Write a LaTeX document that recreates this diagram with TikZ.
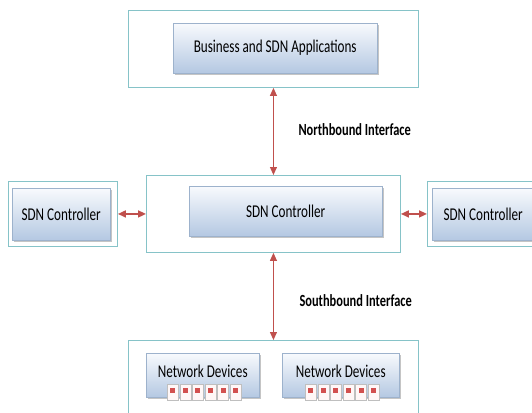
\documentclass[tikz,border=0pt]{standalone}
\usepackage{fontspec}
\setmainfont[FakeStretch=0.73]{Carlito}
\usetikzlibrary{arrows.meta,shadows}

\definecolor{framecol}{HTML}{86C3C8}
\definecolor{boxtop}{HTML}{F8FAFD}
\definecolor{boxbot}{HTML}{B4C8E2}
\definecolor{boxline}{HTML}{9DB2CC}
\definecolor{linkcol}{HTML}{C0504D}
\definecolor{portcol}{HTML}{D2504F}

\tikzset{
	frame node/.style = {
		rectangle,
		draw = framecol,
		line width = 0.9pt,
		fill = white,
		anchor = north west
	},
	box node/.style = {
		rectangle,
		draw = boxline,
		top color = boxtop,
		bottom color = boxbot,
		drop shadow = {shadow xshift=1.5pt, shadow yshift=-1.5pt, fill=black!45},
		anchor = north west,
		font = \fontsize{18}{21}\selectfont
	},
	net node/.style = {
		box node,
		text height = 12pt,
		text depth = 8pt,
		inner ysep = 12pt
	},
	port node/.style = {
		rectangle,
		draw = black!25,
		fill = red!3,
		minimum width = 11pt,
		minimum height = 16pt,
		inner sep = 0pt,
		anchor = north west,
		path picture = {\fill[portcol] ([xshift=-2.5pt,yshift=-1pt]path picture bounding box.center) rectangle ++(5pt,5pt);}
	},
	link/.style = {
		draw = linkcol,
		line width = 1pt,
		{Triangle[width=7pt,length=8pt]}-{Triangle[width=7pt,length=8pt]}
	},
	side link/.style = {
		link,
		line width = 1.6pt
	},
	label node/.style = {
		anchor = base west,
		font = \fontsize{17}{20}\selectfont\bfseries
	}
}

\begin{document}
\begin{tikzpicture}[x=1pt, y=1pt]
	\useasboundingbox (0,0) rectangle (532,-412);
	\clip (0,0) rectangle (532,-412);

	% application layer
	\node at (128,-10)  [frame node, minimum width=290pt, minimum height=77pt] (appframe) {};
	\node at (173,-23)  [box node, minimum width=204pt, minimum height=50pt] (apps) {Business and SDN Applications};

	% control layer
	\node at (146,-175) [frame node, minimum width=254pt, minimum height=77pt] (ctrlframe) {};
	\node at (189,-186) [box node, minimum width=193pt, minimum height=50pt] (ctrl) {SDN Controller};
	\node at (8,-181)   [frame node, minimum width=109pt, minimum height=65pt] (leftframe) {};
	\node at (12,-188)  [box node, minimum width=98pt, minimum height=52pt] (leftctrl) {SDN Controller};
	\node at (427,-181) [frame node, minimum width=120pt, minimum height=65pt] (rightframe) {};
	\node at (432,-188) [box node, minimum width=102pt, minimum height=52pt] (rightctrl) {SDN Controller};

	% infrastructure layer
	\node at (128,-340) [frame node, minimum width=290pt, minimum height=90pt] (netframe) {};
	\node at (146,-353) [net node, minimum width=113pt] (devleft) {Network Devices};
	\node at (282,-353) [net node, minimum width=117pt] (devright) {Network Devices};
	\foreach \i in {0,...,5} {
		\node at (167+12.6*\i,-384) [port node] (lport\i) {};
		\node at (305+12.6*\i,-384) [port node] (rport\i) {};
	}

	% interfaces
	\draw[link] (appframe.south) -- (ctrlframe.north);
	\draw[link] (ctrlframe.south) -- (netframe.north);
	\draw[side link] (leftframe.east) -- (ctrlframe.west);
	\draw[side link] (ctrlframe.east) -- (rightframe.west);

	\node at (295,-135) [label node] (nbi) {Northbound Interface};
	\node at (296,-306) [label node] (sbi) {Southbound Interface};
\end{tikzpicture}
\end{document}
